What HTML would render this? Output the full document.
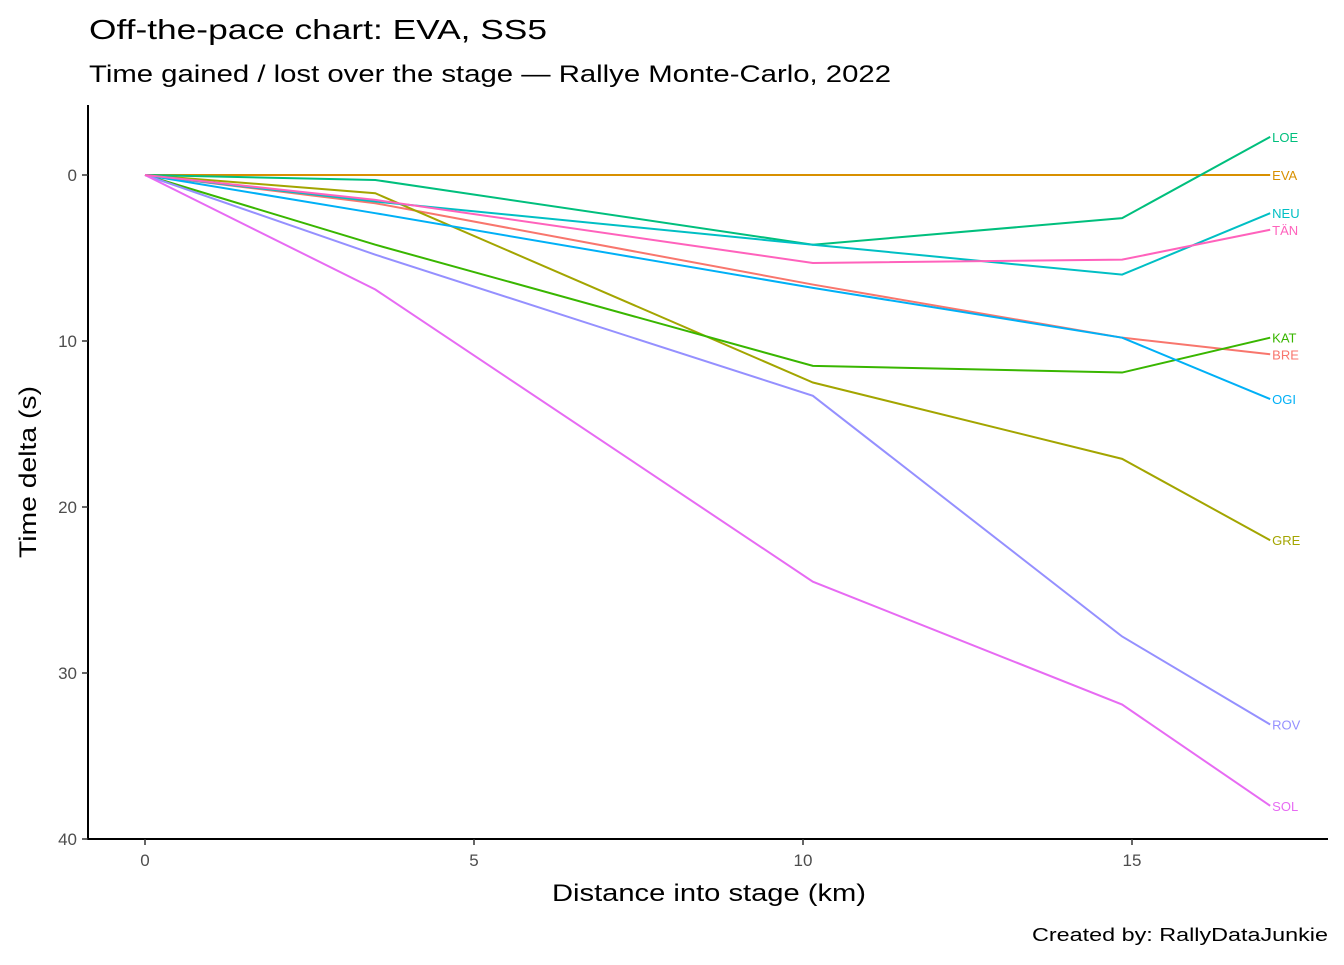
<!DOCTYPE html>
<html><head><meta charset="utf-8"><style>
body{margin:0;background:#fff;font-family:"Liberation Sans","Noto Sans CJK SC",sans-serif}
</style></head><body>
<svg id="c" width="1344" height="960" xmlns="http://www.w3.org/2000/svg">
<text x="89" y="39" font-size="28" textLength="458" lengthAdjust="spacingAndGlyphs" fill="#000">Off-the-pace chart: EVA, SS5</text>
<text x="89" y="82" font-size="24" textLength="802" lengthAdjust="spacingAndGlyphs" fill="#000">Time gained / lost over the stage — Rallye Monte-Carlo, 2022</text>
<text x="709" y="901" font-size="24" text-anchor="middle" textLength="314" lengthAdjust="spacingAndGlyphs">Distance into stage (km)</text>
<text transform="translate(36,472) rotate(-90)" font-size="24" text-anchor="middle" textLength="172" lengthAdjust="spacingAndGlyphs">Time delta (s)</text>
<text x="1328" y="941" font-size="18" text-anchor="end" textLength="296" lengthAdjust="spacingAndGlyphs">Created by: RallyDataJunkie</text>
<line x1="88" y1="105" x2="88" y2="839.5" stroke="#000" stroke-width="2"/>
<line x1="87" y1="839" x2="1328" y2="839" stroke="#000" stroke-width="2"/>
<g id="ax"></g><g id="lines"></g>
</svg>
<script>
const dist=[0,3.5,10.15,14.85,17.1];
const drivers=["BRE","EVA","GRE","KAT","LOE","NEU","OGI","ROV","SOL","TÄN"];
const colors=["#F8766D","#D89000","#A3A500","#39B600","#00BF7D","#00BFC4","#00B0F6","#9590FF","#E76BF3","#FF62BC"];
const BRE=[0,1.7,6.6,9.8,10.8];
const EVA=[0,0,0,0,0];
const GRE=[0,1.1,12.5,17.1,22.0];
const KAT=[0,4.2,11.5,11.9,9.8];
const LOE=[0,0.3,4.2,2.6,-2.3];
const NEU=[0,1.6,4.2,6.0,2.3];
const OGI=[0,2.3,6.8,9.8,13.5];
const ROV=[0,4.8,13.3,27.8,33.1];
const SOL=[0,6.9,24.5,31.9,38.0];
const TAN=[0,1.5,5.3,5.1,3.3];
const series=[BRE,EVA,GRE,KAT,LOE,NEU,OGI,ROV,SOL,TAN];
const xTicks=[0,5,10,15];
const yTicks=[0,10,20,30,40];
const X=v=>145+v*65.8, Y=v=>175+v*16.6;
const NS="http://www.w3.org/2000/svg";
const ax=document.getElementById('ax'), lg=document.getElementById('lines');
function mk(tag,attrs,parent){const e=document.createElementNS(NS,tag);for(const k in attrs)e.setAttribute(k,attrs[k]);parent.appendChild(e);return e;}
xTicks.forEach(t=>{
 const l=mk('line',{x1:X(t),x2:X(t),y1:839,y2:845,stroke:'#333','stroke-width':1.5},ax);
 
 
 const s=mk('text',{x:X(t),y:866,'font-size':17,fill:'#4d4d4d','text-anchor':'middle'},ax);s.textContent=t;
 
 
});
yTicks.forEach(t=>{
 const l=mk('line',{x1:82,x2:88,y1:Y(t),y2:Y(t),stroke:'#333','stroke-width':1.5},ax);
 
 
 const s=mk('text',{x:77,y:Y(t)+6,'font-size':17,fill:'#4d4d4d','text-anchor':'end'},ax);s.textContent=t;
 
 
});
series.forEach((vals,i)=>{
 const p=mk('polyline',{points:vals.map((v,j)=>X(dist[j])+','+Y(v)).join(' '),fill:'none',stroke:colors[i],'stroke-width':2},lg);
 
 
 const last=vals[vals.length-1];
 const t=mk('text',{x:X(dist[dist.length-1])+2,y:Y(last)+5,'font-size':13,fill:colors[i]},lg);t.textContent=drivers[i];
 
 
});
</script>
</body></html>
